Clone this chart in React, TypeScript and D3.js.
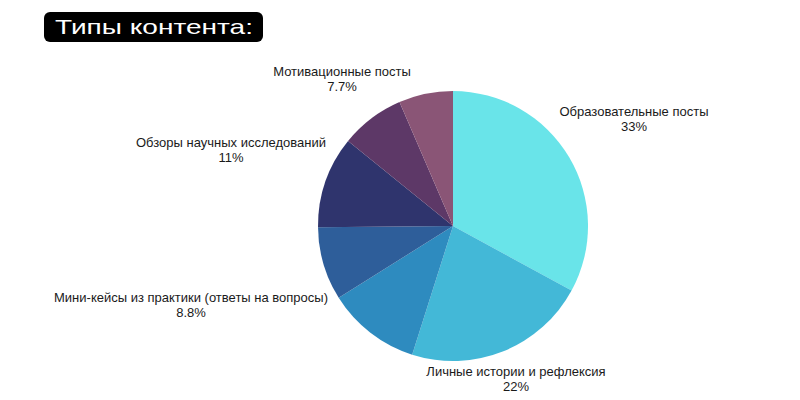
import React from "react";
import * as d3 from "d3";

const categories = [
  "Образовательные посты",
  "Личные истории и рефлексия",
  "Прочее",
  "Мини-кейсы из практики (ответы на вопросы)",
  "Обзоры научных исследований",
  "Мотивационные посты",
  "Другое",
];
const values = [33, 22, 11.2, 8.8, 11, 7.7, 6.5];
const valueLabels = ["33%", "22%", "", "8.8%", "11%", "7.7%", ""];
const showLabel = [true, true, false, true, true, true, false];
const colors = ["#69e4e9", "#43b8d7", "#2e8bbf", "#2e5e9a", "#2f346d", "#5d3867", "#8a5576"];
// label anchor positions (center x, first baseline y)
const labelPos: [number, number][] = [
  [634, 116],
  [516, 376],
  [0, 0],
  [191, 302],
  [231, 147],
  [342, 76],
  [0, 0],
];

export default function App() {
  const W = 800, H = 400;
  const cx = 453, cy = 226, r = 135;
  const pie = d3.pie<number>().sort(null).value((d) => d)(values);
  const arc = d3.arc<d3.PieArcDatum<number>>().innerRadius(0).outerRadius(r);
  const font = "'Liberation Sans', Arial, sans-serif";
  return (
    <svg width={W} height={H} style={{ position: "absolute", left: 0, top: 0, background: "#fff" }}>
      <rect x={44} y={12} width={219} height={30} rx={6} fill="#000" />
      <text
        x={55}
        y={34}
        fill="#fff"
        fontFamily="'Liberation Sans', Arial, sans-serif"
        fontSize={21}
        textLength={198}
        lengthAdjust="spacingAndGlyphs"
      >
        Типы контента:
      </text>
      <g transform={`translate(${cx},${cy})`}>
        {pie.map((p, i) => (
          <path key={i} d={arc(p) || ""} fill={colors[i]} />
        ))}
      </g>
      {categories.map((c, i) =>
        showLabel[i] ? (
          <text key={i} fontFamily={font} fontSize={13} fill="#1a1a1a" textAnchor="middle">
            <tspan x={labelPos[i][0]} y={labelPos[i][1]}>{c}</tspan>
            <tspan x={labelPos[i][0]} y={labelPos[i][1] + 14.5}>{valueLabels[i]}</tspan>
          </text>
        ) : null
      )}
    </svg>
  );
}
